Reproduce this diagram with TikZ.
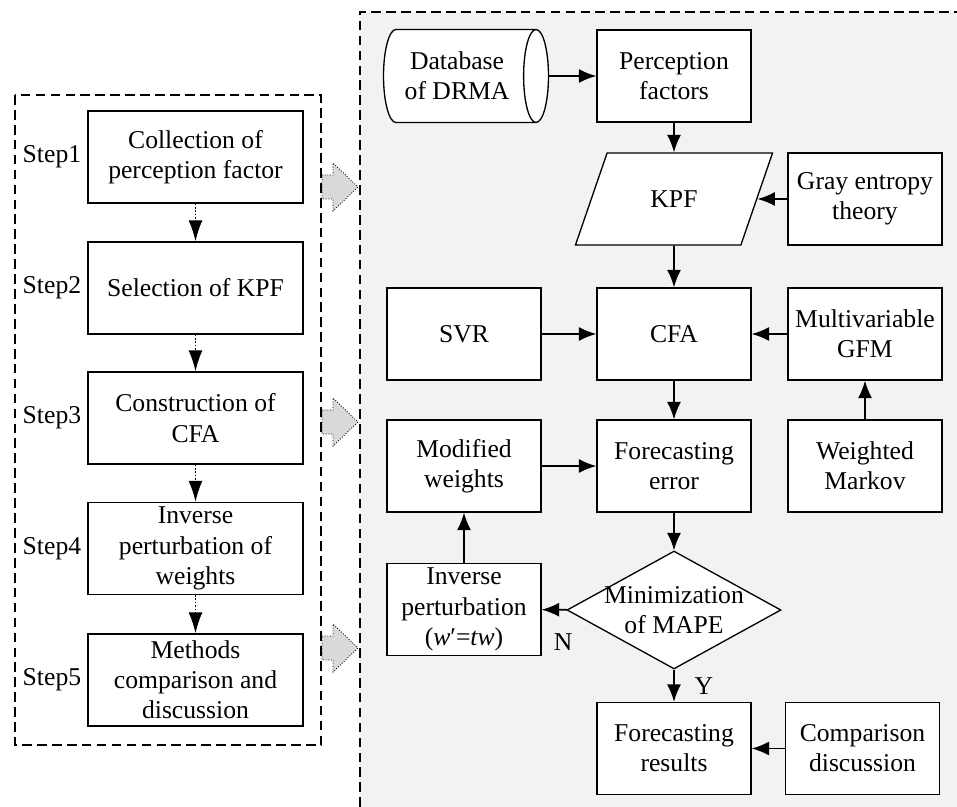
\documentclass[tikz,border=0pt]{standalone}
\usepackage{fontspec}
\setmainfont{Liberation Serif}
\usetikzlibrary{arrows.meta,positioning,shapes.geometric}

\begin{document}
\begin{tikzpicture}[x=0.02cm,y=-0.02cm,
  font=\fontsize{14.6}{17.2}\selectfont,
  box/.style={draw,fill=white,line width=0.75pt,minimum width=3.08cm,minimum height=1.84cm,inner sep=2pt,align=center},
  stepbox/.style={box,minimum width=4.3cm},
  flow/.style={line width=0.9pt,-{Latex[length=10pt,width=8pt]}},
  stepflow/.style={line width=0.9pt,densely dotted,-{Latex[length=12pt,width=8pt]}},
  frame/.style={line width=0.75pt,dash pattern=on 5.5pt off 3pt}]
          \useasboundingbox (0,0) rectangle (957,807);
          \fill[black!5] (360,12) rectangle (957,807);
          \foreach \y in {187,422,648}
            \draw[densely dotted,line width=0.5pt,fill=black!15] (322,\y-12) -- ++(11,0) -- ++(0,-12) -- (358,\y) -- (333,\y+24) -- ++(0,-12) -- (322,\y+12) -- cycle;
          \draw[frame] (360,807) -- (360,12) -- (957,12);
          \draw[frame] (15,95) rectangle (321,745);
          % steps
          \node[stepbox] (S1) at (195.5,157) {Collection of\\perception factor};
          \node[stepbox] (S2) at (195.5,288) {Selection of KPF};
          \node[stepbox] (S3) at (195.5,418) {Construction of\\CFA};
          \node[stepbox] (S4) at (195.5,548.5) {Inverse\\perturbation of\\weights};
          \node[stepbox] (S5) at (195.5,680) {Methods\\comparison and\\discussion};
          \foreach \i in {1,...,5}
            \node[left=0pt of S\i] (L\i) {Step\i};
          \path[stepflow] (S1) edge (S2);
          \path[stepflow] (S2) edge (S3);
          \path[stepflow] (S3) edge (S4);
          \path[stepflow] (S4) edge (S5);
          % model
          \node[cylinder,draw,fill=white,line width=0.75pt,shape aspect=0.45,minimum width=1.86cm,minimum height=3.3cm,inner sep=2pt,align=center,anchor=shape center] (DB) at (466,76) {Database\\of DRMA};
          \node[box] (PF) at (674,76) {Perception\\factors};
          \node[trapezium,trapezium left angle=64,trapezium right angle=116,trapezium stretches=true,draw,fill=white,line width=0.75pt,minimum width=3.96cm,minimum height=1.84cm] (KPF) at (674,199) {KPF};
          \node[box] (GET) at (865,199) {Gray entropy\\theory};
          \node[box] (SVR) at (464,334) {SVR};
          \node[box] (CFA) at (674,334) {CFA};
          \node[box] (GFM) at (865,334) {Multivariable\\GFM};
          \node[box] (MW) at (464,466) {Modified\\weights};
          \node[box] (FE) at (674,466) {Forecasting\\error};
          \node[box] (WM) at (865,466) {Weighted\\Markov};
          \node[box] (IP) at (464,609.5) {Inverse\\perturbation\\(\textit{w}′=\textit{tw})};
          \node[diamond,draw,fill=white,line width=0.75pt,aspect=1.81,minimum width=4.28cm,minimum height=2.36cm,inner sep=-4pt,align=center] (MAPE) at (674,610) {Minimization\\of MAPE};
          \node[box] (FR) at (674,748.5) {Forecasting\\results};
          \node[box] (CD) at (862.5,748.5) {Comparison\\discussion};
          \path[flow] (DB) edge (PF);
          \path[flow] (PF) edge (KPF);
          \path[flow] (GET) edge (KPF);
          \path[flow] (KPF) edge (CFA);
          \path[flow] (SVR) edge (CFA);
          \path[flow] (GFM) edge (CFA);
          \path[flow] (WM) edge (GFM);
          \path[flow] (CFA) edge (FE);
          \path[flow] (MW) edge (FE);
          \path[flow] (FE) edge (MAPE);
          \path[flow] (MAPE) edge node[pos=0.15,below=10pt] {N} (IP);
          \path[flow] (IP) edge (MW);
          \path[flow] (MAPE) edge node[right=8pt] {Y} (FR);
          \path[flow] (CD) edge (FR);
        \end{tikzpicture}
\end{document}
